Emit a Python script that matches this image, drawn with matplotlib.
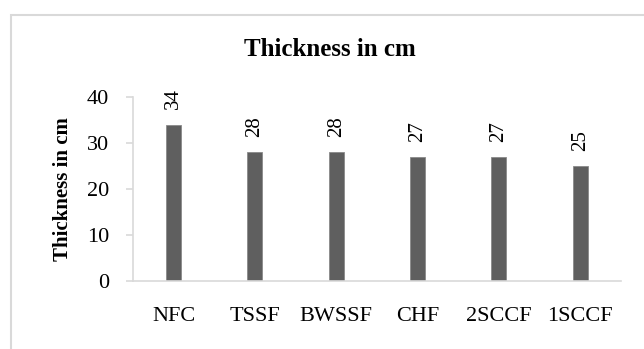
import matplotlib.pyplot as plt
from matplotlib.patches import Rectangle

# ========== 数据 ==========
CATEGORIES = ["NFC", "TSSF", "BWSSF", "CHF", "2SCCF", "1SCCF"]
THICKNESS = [34, 28, 28, 27, 27, 25]
Y_TICKS = [0, 10, 20, 30, 40]

BAR_COLOR = "#5f5f5f"
AXIS_COLOR = "#d9d9d9"

plt.rcParams["font.family"] = ["Liberation Serif", "DejaVu Serif"]

fig = plt.figure(figsize=(6.44, 3.49), dpi=100)
ax = fig.add_axes([0.2065, 0.195, 0.7575, 0.527])

# 外边框（右、下延伸到图外）
top = 1 - 15 / 349
fig.patches.append(Rectangle((11 / 644, -0.2), 1.2, top + 0.2,
                             transform=fig.transFigure, fill=False,
                             edgecolor=AXIS_COLOR, linewidth=1.5))

x = range(len(CATEGORIES))
bars = ax.bar(x, THICKNESS, width=0.185, color=BAR_COLOR, edgecolor="#8a8a8a", linewidth=0.6)

for b, v in zip(bars, THICKNESS):
    ax.annotate(str(v), (b.get_x() + b.get_width() / 2, v), xytext=(0, 11),
                textcoords="offset points", ha="center", va="bottom",
                rotation=90, fontsize=15)

ax.set_xlim(-0.5, len(CATEGORIES) - 0.5)
ax.set_ylim(0, 40)
ax.set_yticks(Y_TICKS)
ax.set_xticks(list(x))
ax.set_xticklabels(CATEGORIES)

for s in ["top", "right"]:
    ax.spines[s].set_visible(False)
for s in ["left", "bottom"]:
    ax.spines[s].set_color(AXIS_COLOR)
    ax.spines[s].set_linewidth(1.2)

ax.tick_params(axis="y", length=5, width=1.2, color=AXIS_COLOR, labelsize=16, pad=12)
ax.tick_params(axis="x", length=0, labelsize=16, pad=19)

ax.set_ylabel("Thickness in cm", fontsize=15, fontweight="bold", labelpad=10)
fig.text(0.513, 0.857, "Thickness in cm", ha="center", va="center",
         fontsize=18, fontweight="bold")

fig.savefig("out.png", dpi=100)
